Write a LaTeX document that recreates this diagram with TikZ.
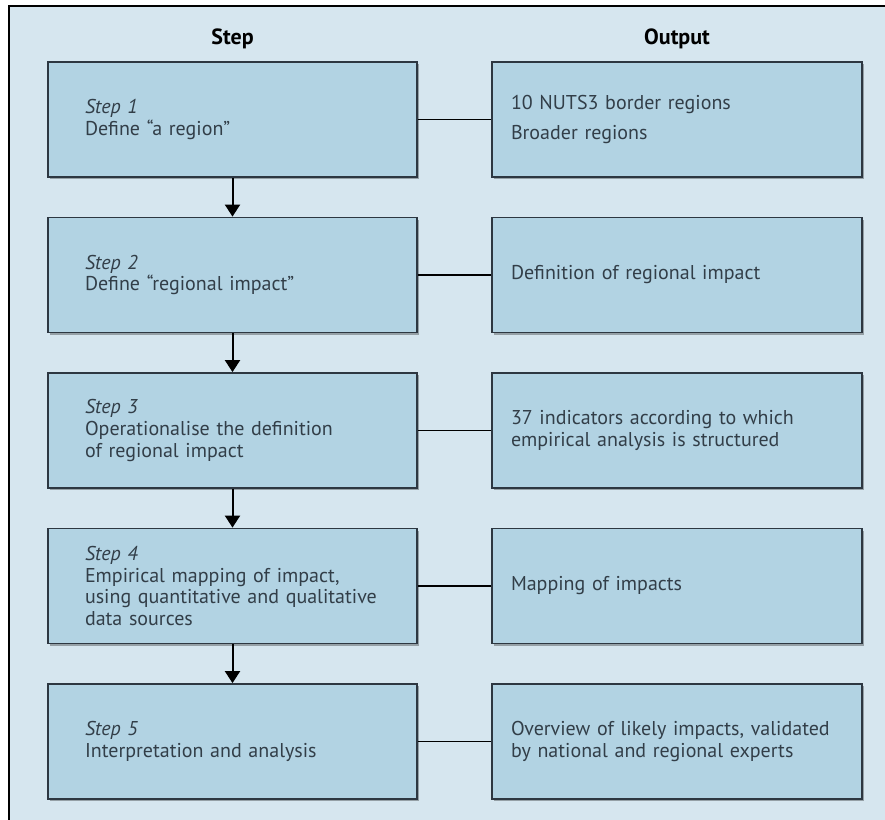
\documentclass[tikz,border=0pt]{standalone}
\usepackage{fontspec}
\setmainfont{PT Sans}
\usetikzlibrary{arrows.meta,shadows}

\definecolor{panelblue}{RGB}{214,230,239}
\definecolor{boxblue}{RGB}{178,211,227}
\definecolor{edgegray}{RGB}{45,55,65}
\definecolor{textgray}{RGB}{50,62,72}

\tikzset{
	stepbox/.style={draw=edgegray, line width=0.9pt, fill=boxblue, text=textgray,
		align=left, text width=147.5pt, inner xsep=18.5pt, minimum height=57.5pt,
		font=\fontsize{10}{10.8}\selectfont,
		drop shadow={shadow xshift=1.2pt, shadow yshift=-1.2pt, opacity=0.3, fill=black}},
	outbox/.style={stepbox, text width=166pt, inner xsep=9.5pt},
	headtext/.style={font=\bfseries\fontsize{11}{12}\selectfont, text=black},
	flow/.style={line width=1pt, -{Triangle[width=7.5pt,length=6pt]}},
	link/.style={line width=0.9pt}
}

\begin{document}
\begin{tikzpicture}[x=0.5pt,y=0.5pt,yscale=-1,xscale=1]
		\useasboundingbox (0,0) rectangle (885,820);

		% Light blue panel, framed on the top and left only
		\fill[panelblue] (9,6) rectangle (885,820);
		\draw[line width=0.6pt] (9,820) -- (9,6) -- (885,6);

		% Column headings
		\node[headtext] (stephead) at (232.5,39) {Step};
		\node[headtext] (outhead) at (677,39) {Output};

		% The steps (left column)
		\node[stepbox] (step1) at (232.5,119.5) {\textit{Step 1}\\Define “a region”};
		\node[stepbox] (step2) at (232.5,275) {\textit{Step 2}\\Define “regional impact”};
		\node[stepbox] (step3) at (232.5,430.5) {\textit{Step 3}\\Operationalise the definition\\of regional impact};
		\node[stepbox] (step4) at (232.5,586) {\textit{Step 4}\\Empirical mapping of impact,\\using quantitative and qualitative\\data sources};
		\node[stepbox] (step5) at (232.5,741.5) {\textit{Step 5}\\Interpretation and analysis};

		% The outputs (right column)
		\node[outbox] (out1) at (677,119.5) {10 NUTS3 border regions\\[4pt]Broader regions};
		\node[outbox] (out2) at (677,275) {Definition of regional impact};
		\node[outbox] (out3) at (677,430.5) {37 indicators according to which\\empirical analysis is structured};
		\node[outbox] (out4) at (677,586) {Mapping of impacts};
		\node[outbox] (out5) at (677,741.5) {Overview of likely impacts, validated\\by national and regional experts};

		% Arrows from one step to the next
		\draw[flow] (step1) -- (step2);
		\draw[flow] (step2) -- (step3);
		\draw[flow] (step3) -- (step4);
		\draw[flow] (step4) -- (step5);

		% Plain lines from each step to its output
		\draw[link] (step1) -- (out1);
		\draw[link] (step2) -- (out2);
		\draw[link] (step3) -- (out3);
		\draw[link] (step4) -- (out4);
		\draw[link] (step5) -- (out5);
	\end{tikzpicture}
\end{document}
